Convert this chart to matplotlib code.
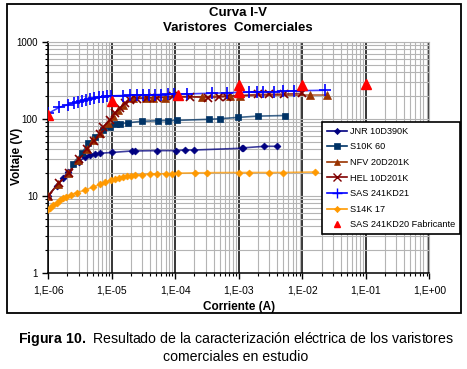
"""
Curva I-V de varistores comerciales
"""
import numpy as np
import matplotlib
matplotlib.use('Agg')
import matplotlib.pyplot as plt
from matplotlib.lines import Line2D
from matplotlib.patches import Rectangle
from matplotlib.ticker import LogLocator, FuncFormatter, FixedLocator

plt.rcParams['font.family'] = ['Liberation Sans', 'DejaVu Sans']
plt.rcParams['mathtext.fontset'] = 'custom'
plt.rcParams['mathtext.rm'] = 'Liberation Sans'
plt.rcParams['mathtext.bf'] = 'Liberation Sans:bold'

# JNR 10D390K
jnr_i = [1.0e-6, 1.35e-6, 1.72e-6, 2.06e-6, 3.04e-6, 3.78e-6, 4.54e-6, 5.43e-6, 6.5e-6,
         1.0e-5, 2.06e-5, 2.32e-5, 5.1e-5, 1.01e-4, 1.42e-4, 1.97e-4, 1.11e-3, 1.17e-3,
         2.52e-3, 4.0e-3]
jnr_v = [10, 13.5, 17.2, 20.5, 27.7, 32, 34, 35, 35.6,
         36.4, 38.1, 38.1, 38.5, 38.5, 39.2, 39.2, 41.3, 41.8,
         43.8, 43.8]

# S10K 60
s10_i = [2.42e-6, 3.36e-6, 4.27e-6, 5.43e-6, 7.35e-6, 9.4e-6, 1.16e-5, 1.35e-5, 1.82e-5,
         2.96e-5, 5.4e-5, 7.6e-5, 1.05e-4, 3.43e-4, 5.06e-4, 9.8e-4, 1.98e-3, 5.35e-3]
s10_v = [26, 35.5, 47.8, 58.3, 71.3, 78.7, 84.5, 85.5, 88.7,
         92.5, 94, 94.5, 95, 98.2, 100, 104, 108, 110]

# NFV 20D201K
nfv_i = [1.0e-6, 1.4e-6, 2.06e-6, 2.96e-6, 4.03e-6, 5.12e-6, 6.5e-6, 8.8e-6, 1.06e-5,
         1.26e-5, 1.52e-5, 2.18e-5, 3.46e-5, 4.5e-5, 6.9e-5, 2.6e-4, 7.2e-4, 1.05e-3,
         1.32e-2, 2.48e-2]
nfv_v = [10, 14, 19.5, 29, 41, 53, 65, 87, 110,
         130, 150, 184, 187, 187, 188, 193, 199, 199,
         203, 203]

# HEL 10D201K
hel_i = [1.0e-6, 1.45e-6, 2.1e-6, 3.0e-6, 4.1e-6, 5.2e-6, 6.6e-6, 7.35e-6, 9.4e-6,
         1.12e-5, 1.35e-5, 1.61e-5, 1.94e-5, 2.47e-5, 3.55e-5, 5.1e-5, 9.3e-5, 1.7e-4,
         3.3e-4, 4.8e-4, 6.45e-4, 2.03e-3, 3.0e-3, 5.1e-3, 9.8e-3]
hel_v = [10, 14.5, 20, 30, 41, 52, 64, 78.7, 96,
         117, 136, 158, 175, 182, 186, 188, 195, 193,
         188, 190, 194, 207, 207, 209, 213]

# SAS 241KD21
sas_i = [1.0e-6, 1.5e-6, 2.05e-6, 2.5e-6, 2.9e-6, 3.35e-6, 3.9e-6, 4.55e-6, 5.3e-6,
         6.2e-6, 7.35e-6, 8.5e-6, 9.7e-6, 1.52e-5, 1.94e-5, 2.52e-5, 3.13e-5, 3.85e-5,
         4.8e-5, 6.0e-5, 7.75e-5, 9.5e-5, 1.5e-4, 3.75e-4, 6.45e-4, 1.46e-3, 1.91e-3,
         2.43e-3, 3.58e-3, 4.9e-3, 7.4e-3, 2.28e-2]
sas_v = [117, 141, 152, 160, 166, 171, 177, 182, 186,
         190, 193, 196, 198, 200, 201, 202, 203, 204,
         205, 206, 207, 208, 210, 214, 217, 221, 222,
         223, 224, 226, 230, 234]

# S14K 17
s14_i = [0.93e-6, 1.06e-6, 1.2e-6, 1.35e-6, 1.51e-6, 1.7e-6, 1.9e-6, 2.24e-6, 2.82e-6,
         3.8e-6, 5.1e-6, 6.5e-6, 7.9e-6, 9.8e-6, 1.12e-5, 1.32e-5, 1.51e-5, 1.74e-5,
         2.0e-5, 2.34e-5, 2.95e-5, 3.98e-5, 5.1e-5, 7.1e-5, 8.8e-5, 1.11e-4, 2.04e-4,
         3.13e-4, 1.0e-3, 1.45e-3, 3.0e-3, 5.0e-3, 1.58e-2]
s14_v = [6.4, 7.0, 7.6, 8.1, 8.7, 9.2, 9.7, 10.3, 11.0,
         11.8, 13.0, 14.0, 15.0, 16.0, 16.6, 17.1, 17.5, 17.9,
         18.2, 18.5, 18.8, 19.0, 19.2, 19.3, 19.4, 19.6, 19.8,
         19.9, 20.0, 20.0, 20.0, 20.0, 20.3]

# SAS 241KD20 Fabricante
fab_i = [1.0e-6, 1.0e-5, 1.1e-4, 1.0e-3, 1.0e-3, 1.0e-2, 1.0e-1]
fab_v = [112, 170, 203, 274, 220, 274, 280]

series = [
    ('JNR 10D390K', jnr_i, jnr_v, '#000080', 'D', 3.5),
    ('S10K 60', s10_i, s10_v, '#003366', 's', 5),
    ('NFV 20D201K', nfv_i, nfv_v, '#993300', '^', 5.5),
    ('HEL 10D201K', hel_i, hel_v, '#800000', 'x', 6),
    ('SAS 241KD21', sas_i, sas_v, '#0000FF', '+', 8),
    ('S14K 17', s14_i, s14_v, '#FF9900', 'D', 3.5),
]

fig = plt.figure(figsize=(4.67, 3.69), dpi=100)
ax = fig.add_axes([0.1034, 0.261, 0.8163, 0.626])

handles = []
for name, xi, yv, col, mk, ms in series:
    ax.plot(xi, yv, color=col, lw=1.2, alpha=0.75, zorder=3)
    ax.plot(xi, yv, ls='none', marker=mk, ms=ms, color=col, mec=col,
            mew=1.2 if mk in ('x', '+') else 0.5, zorder=4)
    handles.append(Line2D([], [], color=col, lw=1.2, marker=mk, ms=ms * 0.9,
                          mec=col, mew=1.0 if mk in ('x', '+') else 0.5, label=name))

ax.plot(fab_i, fab_v, ls='none', marker='^', ms=6.5, color='#FF0000', zorder=5)
handles.append(Line2D([], [], ls='none', marker='^', ms=5, color='#FF0000',
                      label='SAS 241KD20 Fabricante'))

ax.set_xscale('log')
ax.set_yscale('log')
ax.set_xlim(1e-6, 1.0)
ax.set_ylim(1, 1000)

ax.xaxis.set_major_locator(FixedLocator([1e-6, 1e-5, 1e-4, 1e-3, 1e-2, 1e-1, 1.0]))
ax.xaxis.set_minor_locator(LogLocator(base=10, subs=np.arange(2, 10), numticks=20))
ax.yaxis.set_major_locator(FixedLocator([1, 10, 100, 1000]))
ax.yaxis.set_minor_locator(LogLocator(base=10, subs=np.arange(2, 10), numticks=20))
ax.xaxis.set_major_formatter(FuncFormatter(
    lambda v, p: '1,E%+03d' % int(round(np.log10(v)))))
ax.yaxis.set_major_formatter(FuncFormatter(lambda v, p: '%d' % v))

ax.grid(True, which='minor', color='#B4B4B4', lw=0.8)
ax.grid(True, which='major', axis='y', color='#B4B4B4', lw=0.8)
ax.grid(True, which='major', axis='x', color='black', lw=1.1)
ax.set_axisbelow(True)

ax.tick_params(which='major', length=4, width=1, labelsize=7.5, direction='out',
               top=False, right=False)
ax.tick_params(which='minor', length=2.5, width=0.8, top=False, right=False)
ax.tick_params(axis='x', pad=5)
ax.yaxis.set_tick_params(labelsize=7)
for side in ('top', 'right'):
    ax.spines[side].set_color('#B4B4B4')
    ax.spines[side].set_linewidth(0.8)
for side in ('left', 'bottom'):
    ax.spines[side].set_linewidth(1.1)

ax.set_xlabel('Corriente (A)', fontsize=8.5, fontweight='bold', labelpad=4)
fig.text(0.036, 0.575, 'Voltaje (V)', rotation=90, ha='center', va='center',
         fontsize=8.5, fontweight='bold')

fig.text(0.509, 0.965, 'Curva I-V', ha='center', va='center', fontsize=9.5,
         fontweight='bold')
fig.text(0.509, 0.923, 'Varistores  Comerciales', ha='center', va='center',
         fontsize=9.5, fontweight='bold')

leg = fig.legend(handles=handles, loc='upper right', bbox_to_anchor=(0.985, 0.67),
                 fontsize=6.6, frameon=True, fancybox=False, edgecolor='black',
                 framealpha=1, handlelength=2.2, handletextpad=0.3,
                 labelspacing=0.72, borderpad=0.55, borderaxespad=0)
leg.get_frame().set_linewidth(1.2)

# outer frame of the chart
fig.patches.append(Rectangle((0.015, 0.152), 0.972, 0.837, transform=fig.transFigure,
                             fill=False, edgecolor='black', lw=1.3))

fig.text(0.505, 0.080, r'$\mathbf{Figura\ 10.}$ Resultado de la caracterización eléctrica de los varistores',
         ha='center', va='center', fontsize=10.2)
fig.text(0.505, 0.033, 'comerciales en estudio', ha='center', va='center', fontsize=10.2)

plt.savefig('out.png', dpi=100)
plt.close()
